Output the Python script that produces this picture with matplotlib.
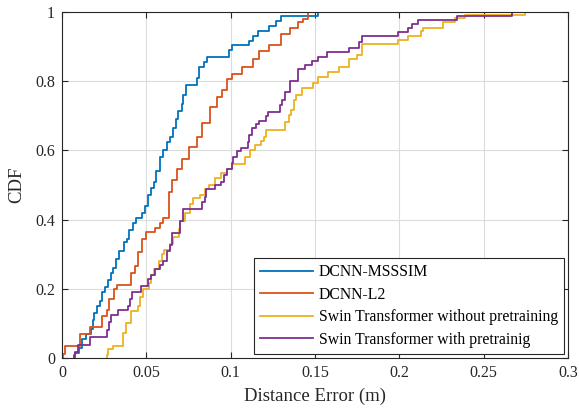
import numpy as np
import matplotlib
matplotlib.use("Agg")
import matplotlib.pyplot as plt
from matplotlib.ticker import FuncFormatter

plt.rcParams['font.family'] = ['Liberation Serif', 'DejaVu Serif']

# step points: error (m) where the CDF jumps, CDF level after the jump
msssim_x = [0.0075, 0.0080, 0.0100, 0.0120, 0.0140, 0.0170, 0.0185, 0.0190, 0.0210, 0.0225,
            0.0240, 0.0255, 0.0270, 0.0290, 0.0305, 0.0320, 0.0340, 0.0365, 0.0385, 0.0400,
            0.0420, 0.0440, 0.0475, 0.0490, 0.0510, 0.0530, 0.0545, 0.0560, 0.0580, 0.0600,
            0.0620, 0.0640, 0.0660, 0.0675, 0.0690, 0.0710, 0.0720, 0.0735, 0.0800, 0.0810,
            0.0840, 0.0860, 0.0990, 0.1010, 0.1110, 0.1130, 0.1160, 0.1230, 0.1270, 0.1300,
            0.1520]
msssim_y = [0.012, 0.015, 0.030, 0.055, 0.070, 0.085, 0.110, 0.130, 0.150, 0.165,
            0.190, 0.205, 0.225, 0.245, 0.260, 0.285, 0.310, 0.335, 0.345, 0.370,
            0.390, 0.405, 0.420, 0.440, 0.470, 0.490, 0.510, 0.540, 0.580, 0.600,
            0.625, 0.640, 0.665, 0.690, 0.715, 0.735, 0.760, 0.790, 0.810, 0.840,
            0.855, 0.870, 0.890, 0.905, 0.915, 0.930, 0.945, 0.960, 0.975, 0.988,
            1.000]

l2_x = [0.0005, 0.0015, 0.0107, 0.0166, 0.0240, 0.0265, 0.0280, 0.0310, 0.0325, 0.0410,
        0.0430, 0.0450, 0.0475, 0.0500, 0.0550, 0.0580, 0.0600, 0.0635, 0.0650, 0.0680,
        0.0710, 0.0750, 0.0800, 0.0830, 0.0880, 0.0920, 0.0950, 0.0980, 0.1010, 0.1070,
        0.1130, 0.1170, 0.1230, 0.1300, 0.1350, 0.1400, 0.1430, 0.1460]
l2_y = [0.012, 0.036, 0.068, 0.091, 0.120, 0.140, 0.170, 0.200, 0.212, 0.247,
        0.265, 0.305, 0.343, 0.363, 0.377, 0.390, 0.405, 0.480, 0.515, 0.545,
        0.575, 0.610, 0.640, 0.680, 0.724, 0.753, 0.776, 0.805, 0.820, 0.840,
        0.863, 0.886, 0.906, 0.935, 0.955, 0.970, 0.980, 1.000]

swin_x = [0.0265, 0.0270, 0.0300, 0.0360, 0.0380, 0.0410, 0.0450, 0.0465, 0.0480, 0.0515,
          0.0530, 0.0545, 0.0575, 0.0595, 0.0605, 0.0640, 0.0660, 0.0695, 0.0700, 0.0730,
          0.0760, 0.0775, 0.0820, 0.0850, 0.0870, 0.0910, 0.0940, 0.0980, 0.1010, 0.1085,
          0.1115, 0.1145, 0.1180, 0.1200, 0.1210, 0.1320, 0.1345, 0.1360, 0.1375, 0.1390,
          0.1420, 0.1490, 0.1520, 0.1580, 0.1640, 0.1700, 0.1750, 0.1780, 0.1990, 0.2050,
          0.2130, 0.2140, 0.2260, 0.2330, 0.2390, 0.2745]
swin_y = [0.010, 0.025, 0.036, 0.073, 0.100, 0.135, 0.150, 0.175, 0.198, 0.218,
          0.240, 0.256, 0.280, 0.300, 0.313, 0.330, 0.350, 0.372, 0.395, 0.420,
          0.445, 0.463, 0.472, 0.487, 0.500, 0.520, 0.535, 0.545, 0.562, 0.580,
          0.600, 0.617, 0.628, 0.640, 0.660, 0.683, 0.703, 0.718, 0.747, 0.760,
          0.780, 0.796, 0.813, 0.828, 0.840, 0.863, 0.875, 0.908, 0.920, 0.930,
          0.944, 0.955, 0.970, 0.984, 0.990, 1.000]

swinpt_x = [0.0070, 0.0080, 0.0095, 0.0166, 0.0267, 0.0280, 0.0290, 0.0330, 0.0390, 0.0405,
            0.0415, 0.0470, 0.0510, 0.0530, 0.0550, 0.0580, 0.0600, 0.0625, 0.0640, 0.0650,
            0.0700, 0.0720, 0.0830, 0.0845, 0.0855, 0.0910, 0.0940, 0.0960, 0.0980, 0.1005,
            0.1015, 0.1035, 0.1060, 0.1100, 0.1110, 0.1125, 0.1150, 0.1170, 0.1210, 0.1220,
            0.1290, 0.1305, 0.1320, 0.1350, 0.1400, 0.1440, 0.1480, 0.1520, 0.1570, 0.1700,
            0.1760, 0.1780, 0.1990, 0.2050, 0.2075, 0.2110, 0.2340, 0.2670]
swinpt_y = [0.010, 0.016, 0.037, 0.060, 0.082, 0.105, 0.125, 0.140, 0.150, 0.170,
            0.190, 0.207, 0.227, 0.240, 0.256, 0.270, 0.280, 0.308, 0.328, 0.362,
            0.395, 0.430, 0.450, 0.465, 0.487, 0.500, 0.510, 0.530, 0.545, 0.565,
            0.582, 0.597, 0.608, 0.625, 0.645, 0.666, 0.675, 0.686, 0.700, 0.710,
            0.730, 0.747, 0.770, 0.800, 0.834, 0.848, 0.857, 0.871, 0.883, 0.897,
            0.912, 0.932, 0.941, 0.955, 0.964, 0.978, 0.988, 1.000]

labels = ['DCNN-MSSSIM', 'DCNN-L2', 'Swin Transformer without pretraining',
          'Swin Transformer with pretrainig']
colors = ['#0072BD', '#D95319', '#EDB120', '#7E2F8E']
series = [(msssim_x, msssim_y), (l2_x, l2_y), (swin_x, swin_y), (swinpt_x, swinpt_y)]

fig = plt.figure(figsize=(5.79, 4.12), dpi=100)
ax = fig.add_axes([62/579, 54/412, 506/579, 346/412])

for (xs, ys), c, lab in zip(series, colors, labels):
    xx = [xs[0]] + list(xs)
    yy = [0.0] + list(ys)
    ax.step(xx, yy, where='post', color=c, linewidth=1.3, label=lab)

ax.set_xlim(0, 0.3)
ax.set_ylim(0, 1)
ax.set_xticks(np.arange(0, 0.301, 0.05))
ax.set_yticks(np.arange(0, 1.01, 0.2))
ax.xaxis.set_major_formatter(FuncFormatter(lambda v, p: '%g' % round(v, 3)))
ax.yaxis.set_major_formatter(FuncFormatter(lambda v, p: '%g' % round(v, 3)))
ax.grid(True, color='#dcdcdc', linewidth=0.8)
ax.set_axisbelow(True)
ax.tick_params(direction='in', top=True, right=True, length=4, width=0.8,
               colors='#262626', labelsize=11.5, pad=5)
for s in ax.spines.values():
    s.set_color('#262626')
    s.set_linewidth(0.8)

ax.set_xlabel('Distance Error (m)', fontsize=13.5, color='#262626', labelpad=5)
ax.set_ylabel('CDF', fontsize=13.5, color='#262626', labelpad=7)

leg = ax.legend(loc='lower right', fontsize=11.3, fancybox=False, framealpha=1,
                edgecolor='#262626', handlelength=3.4, borderpad=0.4,
                labelspacing=0.42, handletextpad=0.35, borderaxespad=0.25)
leg.get_frame().set_linewidth(0.8)

fig.savefig('out.png', dpi=100)
